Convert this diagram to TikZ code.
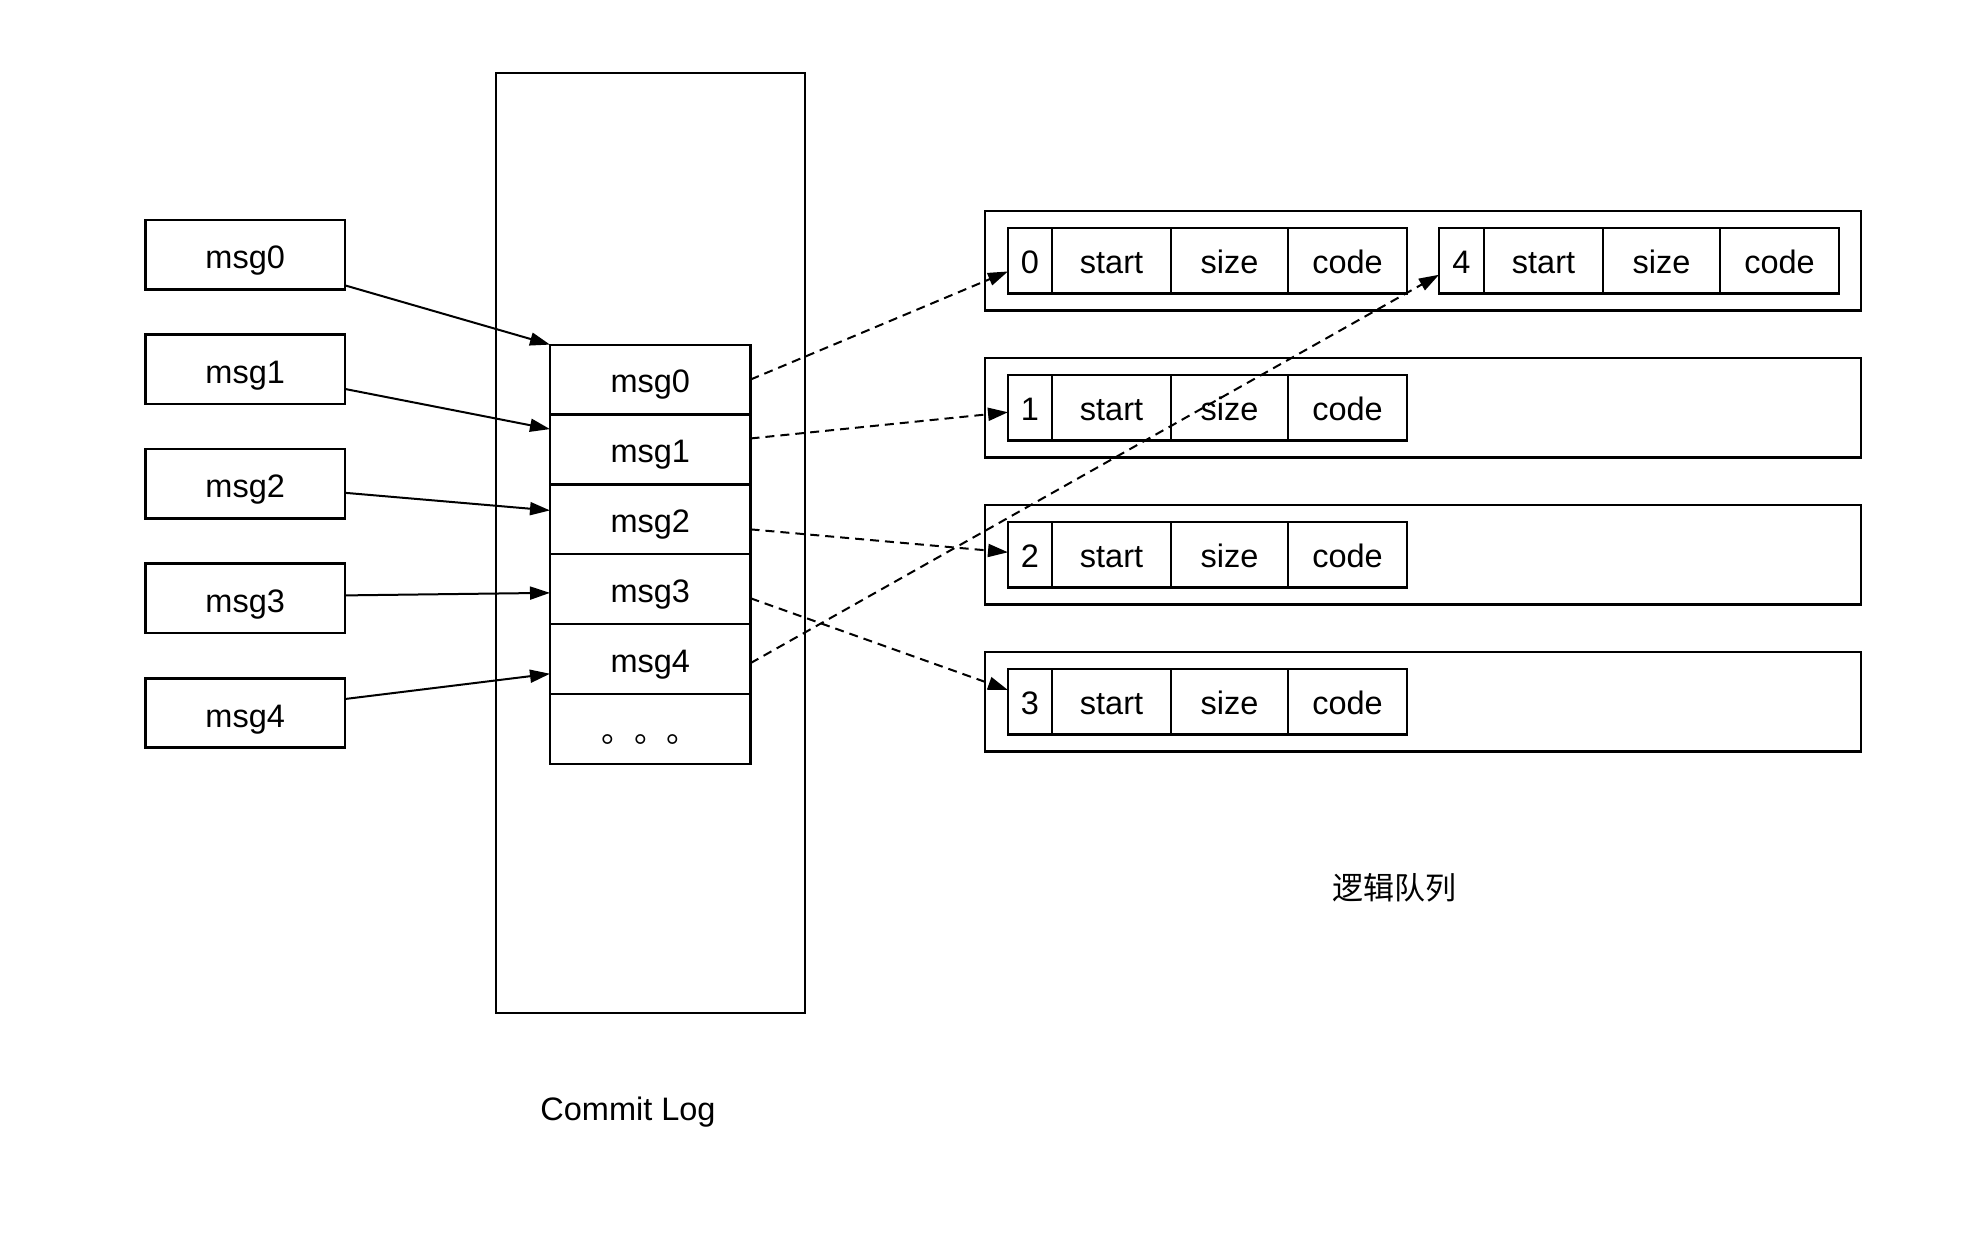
\documentclass[tikz,border=0pt]{standalone}
\usepackage{fontspec}
\setmainfont{Liberation Sans}
\newfontfamily\cjk{Noto Sans CJK SC}
\usetikzlibrary{arrows.meta,calc}
\begin{document}
\begin{tikzpicture}[x=1pt,y=-1pt,
  txt/.style={font=\fontsize{32.5}{39}\selectfont},
  boxbase/.style={draw,inner sep=0pt,outer sep=0pt,txt,text height=26pt,text depth=0pt},
  lbox/.style={boxbase,line width=2.6pt,minimum width=199.5,minimum height=69.5,text height=28pt},
  frame/.style={draw,line width=2.6pt,inner sep=0pt,outer sep=0pt},
  cell/.style={boxbase,line width=2.2pt,minimum width=200.5,minimum height=69.9},
  qcell/.style={boxbase,line width=2.2pt,minimum height=65.5},
  conn/.style={line width=2pt,-{Triangle[length=20pt,width=13pt]}},
  dconn/.style={conn,dash pattern=on 9pt off 6pt},
  lbl/.style={txt,anchor=base,inner sep=0pt}
]
\useasboundingbox (0,0) rectangle (1968,1240);
\fill[white] (0,0) rectangle (1968,1240);

% left messages
\foreach \i in {0,...,4}
  \node[lbox] (m\i) at (245.2, {254.6+114.6*\i}) {msg\i};

% commit log
\node[frame,minimum width=309,minimum height=940] (cl) at (650.5,543) {};
\foreach \i in {0,...,4}
  \node[cell] (c\i) at (650.25, {379.55+69.9*\i}) {msg\i};
\node[cell,font=\cjk\fontsize{32.5}{39}\selectfont] (c5) at (650.25, 729.05) {。。。};
\node[lbl] (cltxt) at (628,1120) {Commit Log};

% logical queues
\foreach \q in {0,...,3}{
  \node[frame,minimum width=876,minimum height=99.5] (q\q) at (1423, {260.75+147*\q}) {};
  \node[qcell,minimum width=44] (i\q) at (1030, {260.75+147*\q}) {\q};
  \node[qcell,minimum width=119] (s\q) at (1111.5, {260.75+147*\q}) {start};
  \node[qcell,minimum width=117] (z\q) at (1229.5, {260.75+147*\q}) {size};
  \node[qcell,minimum width=119] (d\q) at (1347.5, {260.75+147*\q}) {code};
}
\node[qcell,minimum width=45] (i4) at (1461.5, 260.75) {4};
\node[qcell,minimum width=119] (s4) at (1543.5, 260.75) {start};
\node[qcell,minimum width=117] (z4) at (1661.5, 260.75) {size};
\node[qcell,minimum width=119] (d4) at (1779.5, 260.75) {code};
\node[lbl,font=\cjk\fontsize{31}{37}\selectfont] (lqtxt) at (1394,899) {逻辑队列};

% solid arrows into commit log
\draw[conn] ($(m0.south east)+(0,-4)$) -- (c0.north west);
\draw[conn] ($(m1.south east)+(0,-15)$) -- ($(c1.north west)+(0,14.6)$);
\draw[conn] ($(m2.east)+(0,9)$) -- ($(c2.north west)+(0,26)$);
\draw[conn] ($(m3.east)+(0,-3)$) -- ($(c3.west)+(0,3.6)$);
\draw[conn] ($(m4.east)+(0,-14)$) -- ($(c4.west)+(0,14.6)$);

% dashed arrows to queues
\draw[dconn] (c0.east) -- ($(i0.west)+(0,10.7)$);
\draw[dconn] ($(c1.east)+(0,-11)$) -- ($(i1.west)+(0,4.5)$);
\draw[dconn] ($(c2.east)+(0,10)$) -- ($(i2.west)+(0,-2.5)$);
\draw[dconn] ($(c3.east)+(0,9)$) -- ($(i3.west)+(0,-11.7)$);
\draw[dconn] ($(c4.east)+(0,4)$) -- ($(i4.west)+(0,14)$);
\end{tikzpicture}
\end{document}
